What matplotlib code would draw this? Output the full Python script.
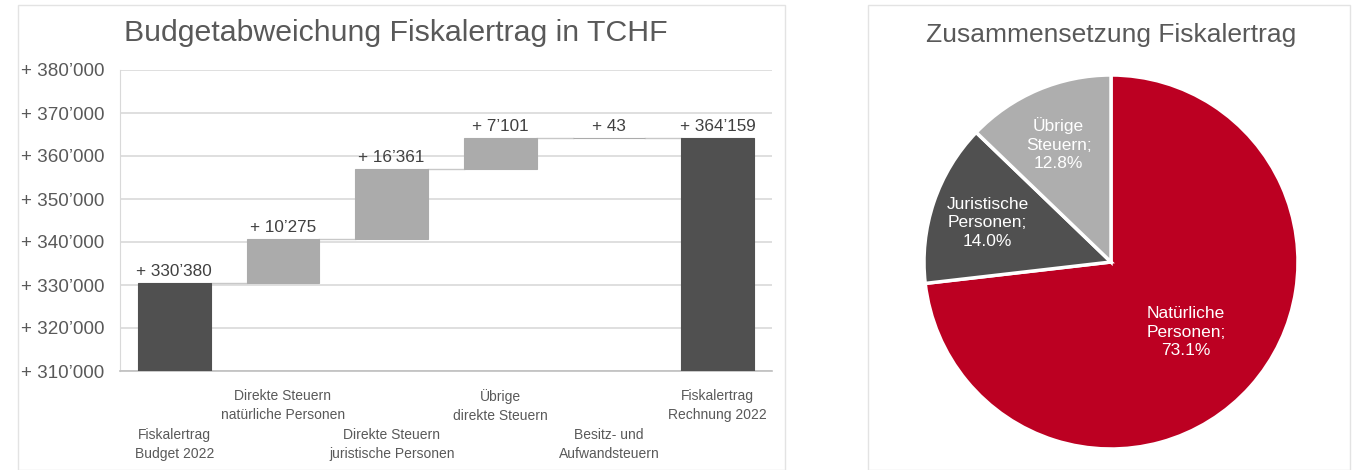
import matplotlib.pyplot as plt
from matplotlib.patches import Rectangle

# waterfall data (TCHF)
categories = ['Fiskalertrag\nBudget 2022', 'Direkte Steuern\nnatürliche Personen',
              'Direkte Steuern\njuristische Personen', 'Übrige\ndirekte Steuern',
              'Besitz- und\nAufwandsteuern', 'Fiskalertrag\nRechnung 2022']
values = [330380, 10275, 16361, 7101, 43, 364159]
is_total = [True, False, False, False, False, True]
yticks = [310000, 320000, 330000, 340000, 350000, 360000, 370000, 380000]

# pie data
pie_labels = ['Natürliche\nPersonen;', 'Juristische\nPersonen;', 'Übrige\nSteuern;']
pie_pct = [73.1, 14.0, 12.8]

TXT = '#595959'
DARK = '#505050'
LIGHT = '#ABABAB'
RED = '#BC0022'
GRID = '#D9D9D9'

plt.rcParams['font.family'] = ['Liberation Sans', 'DejaVu Sans']

W, H = 1357, 470
fig = plt.figure(figsize=(W / 100, H / 100), dpi=100)

# panel frames
for x0, x1 in [(18, 785), (868, 1350)]:
    fig.patches.append(Rectangle((x0 / W, 0), (x1 - x0) / W, 1 - 5 / H,
                                 transform=fig.transFigure, fill=False,
                                 edgecolor='#E3E3E3', lw=1))


def fmt(v):
    return '+ ' + f'{v:,}'.replace(',', '’')


# ---- waterfall ----
ax = fig.add_axes([120 / W, 1 - 371 / H, 652 / W, 301 / H])
bottoms = []
tops = []
run = 0
for v, t in zip(values, is_total):
    if t:
        b = yticks[0]
        top = v
        run = v
    else:
        b = run
        top = run + v
        run = top
    bottoms.append(b)
    tops.append(top)

xs = list(range(len(values)))
w = 0.67
for i in xs:
    c = DARK if is_total[i] else LIGHT
    ax.bar(i, tops[i] - bottoms[i], bottom=bottoms[i], width=w, color=c,
           edgecolor=c, linewidth=0.8, zorder=3)
    ax.text(i, tops[i] + 900, fmt(values[i]), ha='center', va='bottom',
            fontsize=12.3, color='#404040', zorder=4)
    if i < len(values) - 1:
        ax.plot([i + w / 2, i + 1 - w / 2], [tops[i], tops[i]], color='#C8C8C8',
                lw=1, zorder=2)

ax.set_ylim(yticks[0], yticks[-1])
ax.set_xlim(-0.5, len(values) - 0.5)
ax.set_yticks(yticks)
ax.set_yticklabels([fmt(t) for t in yticks], fontsize=13.6, color=TXT)
ax.yaxis.grid(True, color=GRID, lw=1.2)
ax.set_axisbelow(True)
ax.tick_params(axis='both', length=0)
ax.tick_params(axis='y', pad=11)
ax.set_xticks(xs)
ax.set_xticklabels(categories, fontsize=10, color=TXT, linespacing=1.45,
                   family=['Liberation Sans Narrow', 'Liberation Sans'])
for i, tk in enumerate(ax.xaxis.get_major_ticks()):
    tk.set_pad(41 if i % 2 == 0 else 13)
for s in ['top', 'right']:
    ax.spines[s].set_visible(False)
ax.spines['left'].set_color(GRID)
ax.spines['bottom'].set_color('#BFBFBF')
ax.spines['bottom'].set_linewidth(1.2)

fig.text(396 / W, 1 - 33 / H, 'Budgetabweichung Fiskalertrag in TCHF', ha='center',
         va='center', fontsize=21.8, color=TXT)

# ---- pie ----
r = 187
pax = fig.add_axes([(1111 - r) / W, 1 - (262 + r) / H, 2 * r / W, 2 * r / H])
wedges, _ = pax.pie(pie_pct, colors=[RED, DARK, '#AEAEAE'], startangle=90,
                    counterclock=False,
                    wedgeprops=dict(edgecolor='white', linewidth=2.5))
pax.set_xlim(-1, 1)
pax.set_ylim(-1, 1)
pax.set_aspect('equal')
label_pos = [(0.40, -0.375), (-0.66, 0.21), (-0.28, 0.63)]
for lab, p, (lx, ly) in zip(pie_labels, pie_pct, label_pos):
    pax.text(lx, ly, f'{lab}\n{p:.1f}%', ha='center', va='center',
             fontsize=12.5, color='white', linespacing=1.3)

fig.text(1111 / W, 1 - 35 / H, 'Zusammensetzung Fiskalertrag', ha='center',
         va='center', fontsize=19, color=TXT)

fig.savefig('out.png', dpi=100)
